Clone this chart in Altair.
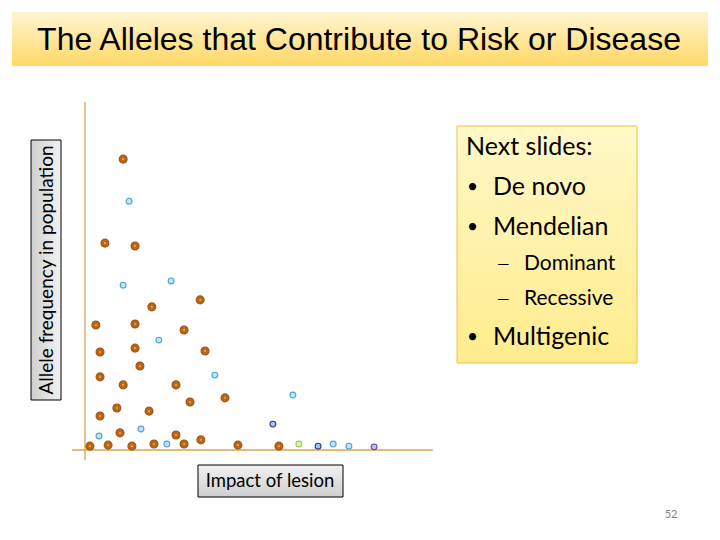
import altair as alt
import pandas as pd

# ---- data (impact of lesion, allele frequency) ----
brown_impact = [1.09, 0.57, 1.43, 3.29, 1.91, 0.31, 1.43, 2.83, 0.43, 1.43, 3.43, 1.57, 0.43, 1.09, 2.60,
                3.00, 4.00, 0.91, 1.83, 0.43, 1.00, 2.60, 0.14, 0.66, 1.34, 1.97, 2.83, 3.31, 4.37, 5.54]
brown_freq = [8.31, 5.91, 5.83, 4.29, 4.09, 3.57, 3.60, 3.43, 2.80, 2.91, 2.83, 2.40, 2.09, 1.86, 1.86,
              1.37, 1.49, 1.20, 1.11, 0.97, 0.49, 0.43, 0.11, 0.14, 0.11, 0.17, 0.17, 0.29, 0.14, 0.11]

small_impact = [1.26, 1.09, 2.46, 2.11, 3.71, 0.40, 1.60, 2.34, 5.94, 7.09, 7.54, 5.37, 6.66, 6.11, 8.26]
small_freq = [7.11, 4.71, 4.83, 3.14, 2.14, 0.40, 0.60, 0.17, 1.57, 0.17, 0.11, 0.74, 0.11, 0.17, 0.09]
small_kind = ["sky", "sky", "sky", "sky", "sky", "sky", "sky", "sky", "sky", "sky", "sky",
              "navy", "navy", "lime", "lilac"]

kinds = ["sky", "navy", "lime", "lilac"]
kind_fill = ["#BFE4F6", "#A9C3EC", "#DDF2AE", "#C9BDEB"]
kind_stroke = ["#4EA3D6", "#2B3E8C", "#9CCB4E", "#5B4B9C"]

axis_impact = [-0.37, 9.94]
axis_freq = [-0.29, 9.94]

brown_df = pd.DataFrame({"impact": brown_impact, "freq": brown_freq})
small_df = pd.DataFrame({"impact": small_impact, "freq": small_freq, "kind": small_kind})

W, H = 704, 524
xs = alt.Scale(domain=[0, 10], range=[77, 427], nice=False, zero=False)
ys = alt.Scale(domain=[0, 10], range=[442, 92], nice=False, zero=False)

title_grad = alt.Gradient(gradient="linear", x1=0, x2=0, y1=0, y2=1,
                          stops=[alt.GradientStop(color="#FFF5D2", offset=0),
                                 alt.GradientStop(color="#FFD865", offset=1)])
box_grad = alt.Gradient(gradient="linear", x1=0, x2=0, y1=0, y2=1,
                        stops=[alt.GradientStop(color="#FFF8C8", offset=0),
                               alt.GradientStop(color="#FFEC8C", offset=1)])
gray_grad = alt.Gradient(gradient="linear", x1=0, x2=0, y1=0, y2=1,
                         stops=[alt.GradientStop(color="#F2F2F2", offset=0),
                                alt.GradientStop(color="#CFCFCF", offset=1)])
gray_grad_h = alt.Gradient(gradient="linear", x1=1, x2=0, y1=0, y2=0,
                           stops=[alt.GradientStop(color="#F2F2F2", offset=0),
                                  alt.GradientStop(color="#CFCFCF", offset=1)])

base = alt.Chart(pd.DataFrame({"a": [0]}))

title_rect = base.mark_rect(color=title_grad).encode(
    x=alt.value(4), x2=alt.value(700), y=alt.value(4), y2=alt.value(58))
title_text = base.mark_text(text="The Alleles that Contribute to Risk or Disease", font="Liberation Sans",
                            fontSize=32, color="black", align="center", baseline="middle").encode(
    x=alt.value(351), y=alt.value(32))

# axis lines
vline = alt.Chart(pd.DataFrame({"impact": [0], "f1": [axis_freq[0]], "f2": [axis_freq[1]]})).mark_rule(
    color="#D9A455", strokeWidth=1.3).encode(
    x=alt.X("impact:Q", scale=xs, axis=None), y=alt.Y("f1:Q", scale=ys, axis=None), y2="f2:Q")
hline = alt.Chart(pd.DataFrame({"freq": [0], "i1": [axis_impact[0]], "i2": [axis_impact[1]]})).mark_rule(
    color="#D9A455", strokeWidth=1.3).encode(
    y=alt.Y("freq:Q", scale=ys, axis=None), x=alt.X("i1:Q", scale=xs, axis=None), x2="i2:Q")

brown = alt.Chart(brown_df).mark_point(filled=True, fill="#B8661C", stroke="#A55812", strokeWidth=1.2,
                                      opacity=1, size=62).encode(
    x=alt.X("impact:Q", scale=xs, axis=None), y=alt.Y("freq:Q", scale=ys, axis=None))
brown_dot = alt.Chart(brown_df).mark_point(filled=True, color="#F5A040", opacity=1, size=5).encode(
    x=alt.X("impact:Q", scale=xs, axis=None), y=alt.Y("freq:Q", scale=ys, axis=None))

small = alt.Chart(small_df).mark_point(filled=True, opacity=1, size=34, strokeWidth=1.1).encode(
    x=alt.X("impact:Q", scale=xs, axis=None), y=alt.Y("freq:Q", scale=ys, axis=None),
    fill=alt.Fill("kind:N", scale=alt.Scale(domain=kinds, range=kind_fill), legend=None),
    stroke=alt.Stroke("kind:N", scale=alt.Scale(domain=kinds, range=kind_stroke), legend=None))

# text box on the right
box = base.mark_rect(color=box_grad, stroke="#E6C24A", strokeWidth=1).encode(
    x=alt.value(449), x2=alt.value(629), y=alt.value(118), y2=alt.value(355))

def txt(s, x, y, size, align="left"):
    return base.mark_text(text=s, font="Lato", fontSize=size, color="black", align=align,
                          baseline="middle").encode(x=alt.value(x), y=alt.value(y))

box_texts = [
    txt("Next slides:", 458, 139, 25),
    txt("•", 459, 179, 19), txt("De novo", 485, 179, 25),
    txt("•", 459, 219, 19), txt("Mendelian", 485, 219, 25),
    txt("—", 489, 256, 16), txt("Dominant", 516, 256, 21),
    txt("—", 489, 291, 16), txt("Recessive", 516, 291, 21),
    txt("•", 459, 329, 19), txt("Multigenic", 485, 329, 25),
]

# axis label boxes
ybox = base.mark_rect(color=gray_grad_h, stroke="black", strokeWidth=1).encode(
    x=alt.value(23), x2=alt.value(53), y=alt.value(132), y2=alt.value(392))
ytext = base.mark_text(text="Allele frequency in population", font="Lato", fontSize=19, angle=270,
                       color="black", align="center", baseline="middle").encode(
    x=alt.value(39), y=alt.value(262))
xbox = base.mark_rect(color=gray_grad, stroke="black", strokeWidth=1).encode(
    x=alt.value(190), x2=alt.value(335), y=alt.value(457), y2=alt.value(489))
xtext = base.mark_text(text="Impact of lesion", font="Lato", fontSize=18.5, color="black",
                       align="center", baseline="middle").encode(x=alt.value(262), y=alt.value(473))

pagenum = base.mark_text(text="52", font="Lato", fontSize=11, color="#808080",
                         align="center", baseline="middle").encode(x=alt.value(663), y=alt.value(507))

chart = alt.layer(
    title_rect, title_text, vline, hline, brown, brown_dot, small,
    box, *box_texts, ybox, ytext, xbox, xtext, pagenum
).properties(width=W, height=H, padding=0, autosize=alt.AutoSizeParams(type="none"),
             background="white").configure_view(stroke=None)

chart.save("out.html", embed_options={"renderer": "svg", "actions": False})
